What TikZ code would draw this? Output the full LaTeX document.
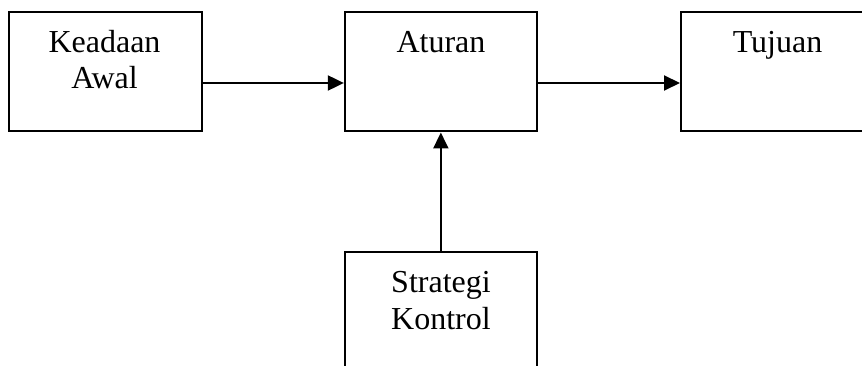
\documentclass[tikz,border=0pt]{standalone}
\usepackage{fontspec}
\setmainfont{Liberation Serif}
\usetikzlibrary{arrows.meta,calc}
\begin{document}
\begin{tikzpicture}[x=1pt,y=-1pt,
  box/.style={draw=black,line width=2pt,rectangle,inner sep=0pt},
  lbl/.style={anchor=base,inner sep=0pt,font=\fontsize{32}{36}\selectfont},
  arr/.style={line width=2pt,-{Triangle[length=16pt,width=15pt]}}]
\useasboundingbox (0,0) rectangle (862,366);
\clip (0,0) rectangle (862,366);
% boxes
\node[box,minimum width=193pt,minimum height=119.5pt] (ka) at (105,71.75) {};
\node[box,minimum width=192pt,minimum height=119.5pt] (at) at (440.85,71.75) {};
\node[box,minimum width=193pt,minimum height=119.5pt] (tj) at (777.5,71.75) {};
\node[box,minimum width=192pt,minimum height=130pt] (sk) at (440.85,316.7) {};
% texts
\node[lbl] (t1) at (104.5,53) {Keadaan};
\node[lbl] (t2) at (104.5,89) {Awal};
\node[lbl] (t3) at (441,53) {Aturan};
\node[lbl] (t4) at (777.5,53) {Tujuan};
\node[lbl] (t5) at (441,292) {Strategi};
\node[lbl] (t6) at (441,329) {Kontrol};
% connectors
\draw[arr] ($(ka.east)+(0,11.25)$) -- ($(at.west)+(0,11.25)$);
\draw[arr] ($(at.east)+(0,11.25)$) -- ($(tj.west)+(0,11.25)$);
\draw[arr] (sk.north) -- (at.south);
\end{tikzpicture}
\end{document}
